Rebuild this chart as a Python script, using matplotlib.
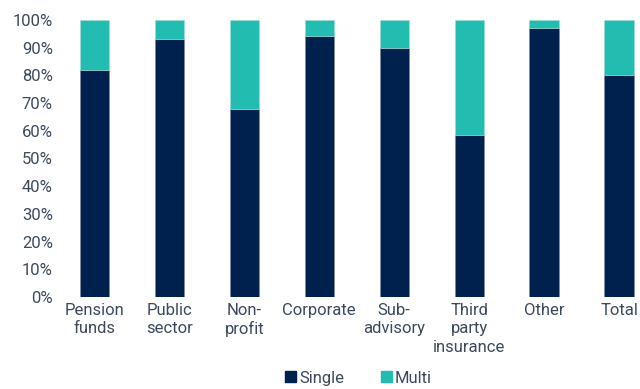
import matplotlib.pyplot as plt
from matplotlib.patches import Patch
import numpy as np

# Datos (porcentaje de mandatos)
categorias = ['Pension\nfunds', 'Public\nsector', 'Non-\nprofit', 'Corporate',
              'Sub-\nadvisory', 'Third\nparty\ninsurance', 'Other', 'Total']
single = [82, 93, 68, 94, 90, 58.5, 97, 80]
multi = [100 - s for s in single]

color_single = '#00204e'
color_multi = '#22bcb0'
color_texto = '#3d4a5e'

plt.rcParams['font.family'] = ['Roboto', 'DejaVu Sans']

fig = plt.figure(figsize=(6.4, 3.89), dpi=100)
ax = fig.add_axes([0.089, 0.2365, 0.911, 0.7125])

x = np.arange(len(categorias))
ax.bar(x, single, width=0.39, color=color_single, edgecolor='#7d8ba0', linewidth=0.4)
ax.bar(x, multi, width=0.39, bottom=single, color=color_multi, edgecolor='#9fdcd6', linewidth=0.4)

ax.set_xlim(-0.5, 7.28)
ax.set_ylim(0, 100)
ax.set_yticks(range(0, 101, 10))
ax.set_yticklabels([f'{v}%' for v in range(0, 101, 10)])
ax.set_xticks(x)
ax.set_xticklabels(categorias, linespacing=1.3)

ax.tick_params(axis='both', length=0, labelsize=12, labelcolor=color_texto)
ax.tick_params(axis='y', pad=3)
ax.tick_params(axis='x', pad=4)
for s in ax.spines.values():
    s.set_visible(False)

handles = [Patch(color=color_single, label='Single'), Patch(color=color_multi, label='Multi')]
fig.legend(handles=handles, loc='center', bbox_to_anchor=(0.56, 0.028), ncol=2, frameon=False,
           handlelength=0.65, handleheight=0.65, handletextpad=0.2, columnspacing=2.2,
           fontsize=12, labelcolor=color_texto, borderpad=0.1)

plt.savefig('out.png', dpi=100)
